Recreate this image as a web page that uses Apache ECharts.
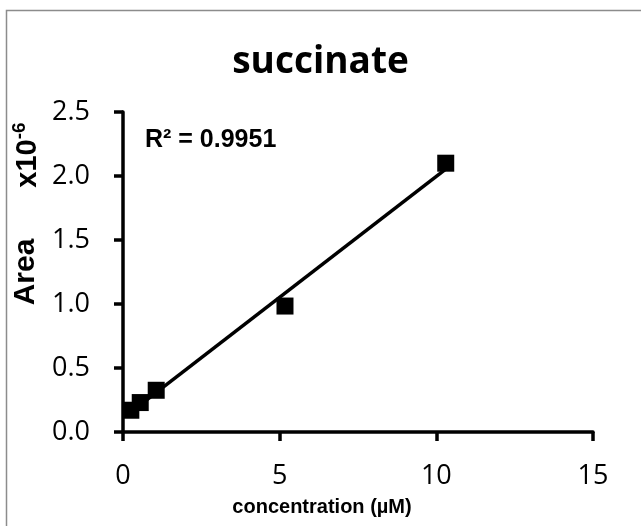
<!DOCTYPE html>
<html>
<head>
<meta charset="utf-8">
<script src="https://cdn.jsdelivr.net/npm/echarts@6/dist/echarts.min.js"></script>
<style>
  html, body { margin: 0; padding: 0; background: #fff; }
  #chart { width: 641px; height: 526px; }
</style>
</head>
<body>
<div id="chart"></div>
<script>
// Calibration standards: concentration (µM) vs peak area (x10^-6)
const concentration = [0.25, 0.55, 1.06, 5.17, 10.3];
const area = [0.17, 0.23, 0.326, 0.984, 2.10];
const xTicks = [0, 5, 10, 15];
const yTicks = [0.0, 0.5, 1.0, 1.5, 2.0, 2.5];
const rSquaredLabel = 'R² = 0.9951';

// Least-squares linear trendline over the measured points
function linearFit(xs, ys) {
  const n = xs.length;
  const mx = xs.reduce((a, b) => a + b, 0) / n;
  const my = ys.reduce((a, b) => a + b, 0) / n;
  let sxy = 0, sxx = 0;
  for (let i = 0; i < n; i++) {
    sxy += (xs[i] - mx) * (ys[i] - my);
    sxx += (xs[i] - mx) * (xs[i] - mx);
  }
  const slope = sxy / sxx;
  return { slope, intercept: my - slope * mx };
}
const fit = linearFit(concentration, area);
const xMin = Math.min(...concentration);
const xMax = Math.max(...concentration);
const trendline = [
  [xMin, fit.intercept + fit.slope * xMin],
  [xMax, fit.intercept + fit.slope * xMax]
];

const points = concentration.map((c, i) => [c, area[i]]);

const chart = echarts.init(document.getElementById('chart'), null, { renderer: 'canvas' });
chart.setOption({
  backgroundColor: '#fff',
  animation: false,
  title: {
    text: 'succinate',
    left: 'center',
    top: 39,
    textStyle: { fontFamily: 'Open Sans', fontWeight: 'bold', fontSize: 37, color: '#000' }
  },
  grid: { left: 123, top: 112, width: 470, height: 320, containLabel: false },
  xAxis: {
    type: 'value',
    min: xTicks[0],
    max: xTicks[xTicks.length - 1],
    interval: 5,
    axisLine: { show: true, lineStyle: { color: '#000', width: 3.5 } },
    axisTick: { show: true, inside: false, length: 9, lineStyle: { color: '#000', width: 3.5 } },
    axisLabel: { margin: 31, fontFamily: 'Open Sans', fontSize: 27, color: '#000' },
    splitLine: { show: false }
  },
  yAxis: {
    type: 'value',
    min: yTicks[0],
    max: yTicks[yTicks.length - 1],
    interval: 0.5,
    axisLine: { show: true, lineStyle: { color: '#000', width: 3.5 } },
    axisTick: { show: true, inside: false, length: 9, lineStyle: { color: '#000', width: 3.5 } },
    axisLabel: {
      margin: 33,
      fontFamily: 'Open Sans',
      fontSize: 27,
      color: '#000',
      formatter: v => v.toFixed(1)
    },
    splitLine: { show: false }
  },
  graphic: [
    {
      type: 'rect',
      silent: true,
      shape: { x: 6.5, y: 10.5, width: 700, height: 600 },
      style: { fill: 'none', stroke: '#8c8c8c', lineWidth: 1.5 },
      z: -1
    },
    {
      type: 'text',
      x: 322, y: 507,
      style: {
        text: 'concentration (µM)',
        fontFamily: 'Liberation Sans', fontWeight: 'bold', fontSize: 20,
        fill: '#000', textAlign: 'center', textVerticalAlign: 'middle'
      }
    },
    {
      type: 'text',
      x: 26, y: 272,
      rotation: Math.PI / 2,
      style: {
        text: 'Area',
        fontFamily: 'Liberation Sans', fontWeight: 'bold', fontSize: 30,
        fill: '#000', textAlign: 'center', textVerticalAlign: 'middle'
      }
    },
    {
      type: 'text',
      x: 26, y: 155,
      rotation: Math.PI / 2,
      style: {
        text: '{b|x10}{s|-6}',
        textAlign: 'center', textVerticalAlign: 'middle',
        rich: {
          b: { fontFamily: 'Liberation Sans', fontWeight: 'bold', fontSize: 29, fill: '#000', lineHeight: 32, verticalAlign: 'bottom' },
          s: { fontFamily: 'Liberation Sans', fontWeight: 'bold', fontSize: 19, fill: '#000', lineHeight: 32, verticalAlign: 'top' }
        }
      }
    },
    {
      type: 'text',
      x: 145, y: 140,
      style: {
        text: rSquaredLabel,
        fontFamily: 'Liberation Sans', fontWeight: 'bold', fontSize: 25,
        fill: '#000', textAlign: 'left', textVerticalAlign: 'middle'
      }
    }
  ],
  series: [
    {
      name: 'Linear fit',
      type: 'line',
      data: trendline,
      symbol: 'none',
      lineStyle: { color: '#000', width: 3.5 },
      z: 2
    },
    {
      name: 'succinate',
      type: 'scatter',
      data: points,
      symbol: 'rect',
      symbolSize: 17,
      itemStyle: { color: '#000', opacity: 1 },
      z: 3
    }
  ]
});
</script>
</body>
</html>
